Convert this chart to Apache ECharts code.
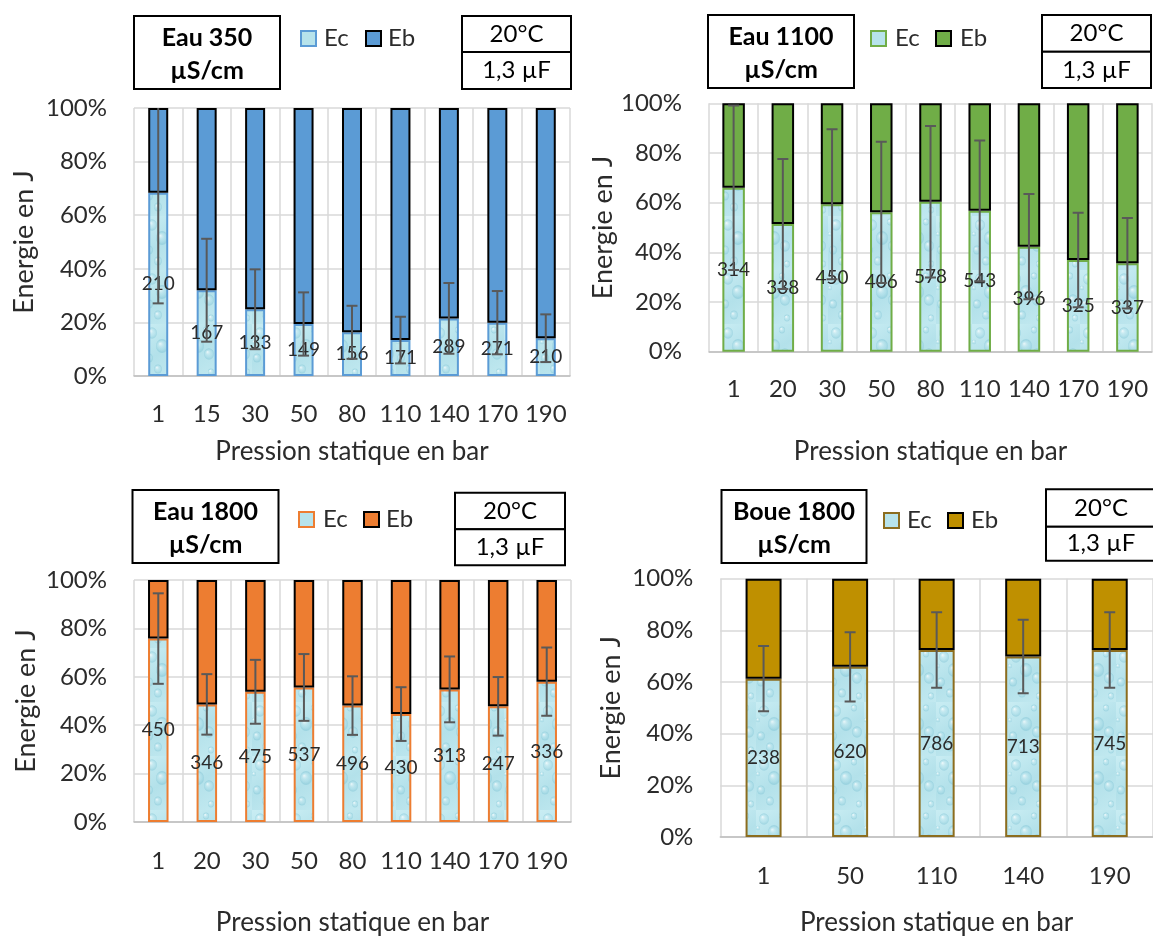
<!DOCTYPE html>
<html><head><meta charset="utf-8">
<script src="https://cdn.jsdelivr.net/npm/echarts@6/dist/echarts.min.js"></script>
<style>html,body{margin:0;padding:0;background:#fff}#c{width:1153px;height:937px}</style>
</head><body><div id="c"></div>
<script>
// ---------- DATA ----------
const cats1 = ['1','15','30','50','80','110','140','170','190'];
const ec1   = [68.4, 32.0, 24.9, 19.4, 16.3, 13.4, 21.5, 19.9, 14.1];
const err1  = [41.3, 19.2, 14.9, 11.8, 9.9, 8.7, 13.2, 11.8, 8.9];
const lab1  = [210, 167, 133, 149, 156, 171, 289, 271, 210];

const cats2 = ['1','20','30','50','80','110','140','170','190'];
const ec2   = [66.0, 51.4, 59.4, 56.1, 60.4, 56.7, 42.3, 36.9, 35.6];
const err2  = [33.1, 26.2, 30.2, 28.4, 30.5, 28.3, 21.2, 19.0, 18.2];
const lab2  = [314, 338, 450, 406, 578, 543, 396, 325, 337];

const cats3 = ['1','20','30','50','80','110','140','170','190'];
const ec3   = [75.8, 48.6, 53.8, 55.6, 48.1, 44.6, 54.8, 47.8, 58.0];
const err3  = [18.7, 12.5, 13.2, 13.8, 12.1, 11.1, 13.6, 12.1, 14.1];
const lab3  = [450, 346, 475, 537, 496, 430, 313, 247, 336];

const cats4 = ['1','50','110','140','190'];
const ec4   = [61.3, 65.9, 72.4, 69.9, 72.4];
const err4  = [12.6, 13.4, 14.6, 14.2, 14.6];
const lab4  = [238, 620, 786, 713, 745];

const titles1 = ['Eau 350', 'Eau 1100', 'Eau 1800', 'Boue 1800'];
const unitText = 'µS/cm';
const tempText = '20°C';
const capText = '1,3 µF';
const yTicks = '{value}%';
const xName = 'Pression statique en bar';
const yName = 'Energie en J';
const seriesNames = ['Ec', 'Eb'];

// ---------- STYLE / LAYOUT ----------
const FONT = "Lato, 'Open Sans', sans-serif";
const TXT = '#2b2b2b';
const FS = 24;
const panels = [
  {cats:cats1, ec:ec1, err:err1, lab:lab1, title:titles1[0], color:'#5B9BD5', ecBorder:'#5B9BD5',
   grid:{left:134, top:108, width:436, height:268}, barW:20, xNameGap:63, yNameGap:96, xMargin:26, yMargin:27,
   box:[134,16,146,73], leg:{y:31, ec:301, ecT:324, eb:366, ebT:388}, rbox:[462,16,109,73,52]},
  {cats:cats2, ec:ec2, err:err2, lab:lab2, title:titles1[1], color:'#70AD47', ecBorder:'#70AD47',
   grid:{left:709, top:103.3, width:443, height:248.4}, barW:22.5, xNameGap:87, yNameGap:92, xMargin:26, yMargin:27,
   box:[708,15,146,73], leg:{y:31, ec:871, ecT:895, eb:936, ebT:960}, rbox:[1042,15,109,73,51.7]},
  {cats:cats3, ec:ec3, err:err3, lab:lab3, title:titles1[2], color:'#ED7D31', ecBorder:'#ED7D31',
   grid:{left:134, top:580, width:437, height:247.7}, barW:20.5, xNameGap:88, yNameGap:94, xMargin:27, yMargin:27,
   box:[132.5,490,146,73], leg:{y:512, ec:299, ecT:323, eb:364, ebT:386}, rbox:[455,492.7,110,72.6,529.3]},
  {cats:cats4, ec:ec4, err:err4, lab:lab4, title:titles1[3], color:'#BF9000', ecBorder:'#8C6D1F',
   grid:{left:720.3, top:578.7, width:435, height:264.6}, barW:36, xNameGap:73, yNameGap:96, xMargin:27, yMargin:27,
   box:[721.5,490,145,73], leg:{y:513, ec:884, ecT:907, eb:948, ebT:971}, rbox:[1046,489.3,110,71.4,526.7]}
];

// water-drop texture for Ec
function makeWater(){
  const c = document.createElement('canvas'); c.width = 36; c.height = 54;
  const g = c.getContext('2d');
  const gr = g.createLinearGradient(0,0,36,54);
  gr.addColorStop(0,'#c9edf3'); gr.addColorStop(0.5,'#b3e1ea'); gr.addColorStop(1,'#c2e9f0');
  g.fillStyle = gr; g.fillRect(0,0,36,54);
  const drops = [[8,9,5],[26,6,3],[18,22,6],[5,34,4],[29,30,5],[14,45,4],[31,48,3],[2,18,2]];
  drops.forEach(([x,y,r])=>{
    const rg = g.createRadialGradient(x-r*0.3,y-r*0.4,0.5,x,y,r);
    rg.addColorStop(0,'rgba(255,255,255,0.6)');
    rg.addColorStop(0.6,'rgba(170,220,232,0.25)');
    rg.addColorStop(1,'rgba(110,185,205,0.35)');
    g.fillStyle = rg; g.beginPath(); g.ellipse(x,y,r,r*1.15,0,0,Math.PI*2); g.fill();
  });
  return c;
}
const water = {image: makeWater(), repeat:'repeat'};

const grids = [], xAxes = [], yAxes = [], series = [], graphics = [];
panels.forEach((p, i) => {
  grids.push(Object.assign({containLabel:false}, p.grid));
  xAxes.push({type:'category', gridIndex:i, data:p.cats, boundaryGap:true,
    name:xName, nameLocation:'middle', nameGap:p.xNameGap,
    nameTextStyle:{fontFamily:FONT, fontSize:26, color:TXT},
    axisLine:{lineStyle:{color:'#BFBFBF', width:1.5}}, axisTick:{show:false},
    axisLabel:{fontFamily:FONT, fontSize:FS, color:TXT, margin:p.xMargin, interval:0},
    splitLine:{show:true, interval:0, lineStyle:{color:'#D9D9D9', width:1.5}}});
  yAxes.push({type:'value', gridIndex:i, min:0, max:100, interval:20,
    name:yName, nameLocation:'middle', nameGap:p.yNameGap,
    nameTextStyle:{fontFamily:FONT, fontSize:27, color:TXT},
    axisLine:{show:false}, axisTick:{show:false},
    axisLabel:{formatter:yTicks, fontFamily:FONT, fontSize:FS, color:TXT, margin:p.yMargin},
    splitLine:{lineStyle:{color:'#D9D9D9', width:1.5}}});
  series.push({type:'bar', name:seriesNames[0], xAxisIndex:i, yAxisIndex:i, stack:'s'+i,
    barWidth:p.barW, data:p.ec,
    itemStyle:{color:water, borderColor:p.ecBorder, borderWidth:2},
    label:{show:true, position:'inside', fontFamily:FONT, fontSize:19, color:TXT,
      formatter:(d)=>String(p.lab[d.dataIndex])}});
  series.push({type:'bar', name:seriesNames[1], xAxisIndex:i, yAxisIndex:i, stack:'s'+i,
    barWidth:p.barW, data:p.ec.map(v=>100-v),
    itemStyle:{color:p.color, borderColor:'#000', borderWidth:2}});
  series.push({type:'custom', name:'err'+i, xAxisIndex:i, yAxisIndex:i, clip:true, z:5,
    data:p.ec.map((v,j)=>[j, v, p.err[j]]),
    renderItem:(params, api)=>{
      const x = api.value(0), y = api.value(1), e = api.value(2);
      const t = api.coord([x, y+e]), b = api.coord([x, Math.max(0, y-e)]);
      const hw = 5.5, st = {stroke:'#595959', lineWidth:2};
      return {type:'group', children:[
        {type:'line', shape:{x1:t[0], y1:t[1], x2:b[0], y2:b[1]}, style:st},
        {type:'line', shape:{x1:t[0]-hw, y1:t[1], x2:t[0]+hw, y2:t[1]}, style:st},
        {type:'line', shape:{x1:b[0]-hw, y1:b[1], x2:b[0]+hw, y2:b[1]}, style:st}
      ]};
    }});

  // title box
  const [bx,by,bw,bh] = p.box;
  graphics.push({type:'rect', shape:{x:bx,y:by,width:bw,height:bh}, style:{fill:'#fff', stroke:'#000', lineWidth:2}});
  graphics.push({type:'text', x:bx+bw/2, y:by+22, style:{text:p.title, fontFamily:FONT, fontWeight:'bold', fontSize:25, fill:'#000', textAlign:'center', textVerticalAlign:'middle'}});
  graphics.push({type:'text', x:bx+bw/2, y:by+55, style:{text:unitText, fontFamily:FONT, fontWeight:'bold', fontSize:25, fill:'#000', textAlign:'center', textVerticalAlign:'middle'}});
  // legend
  const L = p.leg;
  graphics.push({type:'rect', shape:{x:L.ec,y:L.y,width:15,height:15}, style:{fill:'#b7e3eb', stroke:p.ecBorder, lineWidth:2}});
  graphics.push({type:'text', x:L.ecT, y:L.y+7.5, style:{text:seriesNames[0], fontFamily:FONT, fontSize:FS, fill:TXT, textVerticalAlign:'middle'}});
  graphics.push({type:'rect', shape:{x:L.eb,y:L.y,width:15,height:15}, style:{fill:p.color, stroke:'#000', lineWidth:2}});
  graphics.push({type:'text', x:L.ebT, y:L.y+7.5, style:{text:seriesNames[1], fontFamily:FONT, fontSize:FS, fill:TXT, textVerticalAlign:'middle'}});
  // right box
  const [rx,ry,rw,rh,rd] = p.rbox;
  graphics.push({type:'rect', shape:{x:rx,y:ry,width:rw,height:rd-ry}, style:{fill:'#fff', stroke:'#000', lineWidth:2}});
  graphics.push({type:'rect', shape:{x:rx,y:rd,width:rw,height:ry+rh-rd}, style:{fill:'#fff', stroke:'#000', lineWidth:2}});
  graphics.push({type:'text', x:rx+rw/2, y:(ry+rd)/2, style:{text:tempText, fontFamily:FONT, fontSize:FS, fill:'#000', textAlign:'center', textVerticalAlign:'middle'}});
  graphics.push({type:'text', x:rx+rw/2, y:(rd+ry+rh)/2, style:{text:capText, fontFamily:FONT, fontSize:FS, fill:'#000', textAlign:'center', textVerticalAlign:'middle'}});
});

const chart = echarts.init(document.getElementById('c'), null, {renderer:'canvas'});
chart.setOption({
  animation:false, backgroundColor:'#fff',
  grid:grids, xAxis:xAxes, yAxis:yAxes, series:series, graphic:graphics
});
</script></body></html>
